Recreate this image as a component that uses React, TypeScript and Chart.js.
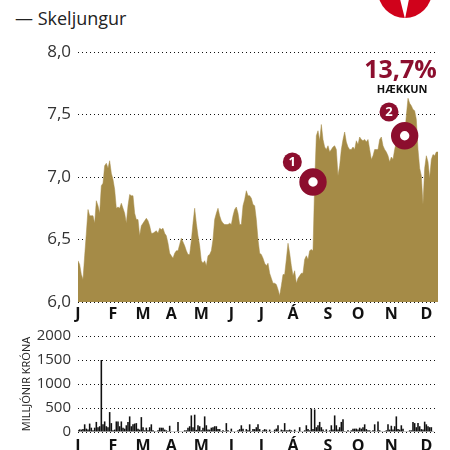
import React, { useEffect, useRef } from 'react';
import { Chart, registerables } from 'chart.js';

Chart.register(...registerables);

const MONTHS = ['J', 'F', 'M', 'A', 'M', 'J', 'J', 'Á', 'S', 'O', 'N', 'D'];
const MONTH_POS = [0, 21, 39, 56, 74, 92, 110, 129, 150, 168, 188, 209];

// Share price (kr.), one value per trading-day step
const PRICE = [
  6.33, 6.30, 6.22, 6.18, 6.37, 6.55, 6.74, 6.69, 6.69, 6.69,
  6.63, 6.81, 6.77, 6.71, 6.93, 6.95, 7.09, 7.11, 7.07, 7.13,
  7.03, 6.98, 6.90, 6.75, 6.76, 6.75, 6.79, 6.75, 6.71, 6.63,
  6.77, 6.86, 6.85, 6.85, 6.71, 6.66, 6.66, 6.53, 6.61, 6.63,
  6.65, 6.67, 6.65, 6.61, 6.55, 6.55, 6.56, 6.57, 6.55, 6.59,
  6.58, 6.59, 6.55, 6.53, 6.47, 6.39, 6.37, 6.35, 6.39, 6.41,
  6.41, 6.46, 6.51, 6.48, 6.45, 6.41, 6.38, 6.38, 6.49, 6.63,
  6.75, 6.63, 6.53, 6.45, 6.33, 6.31, 6.33, 6.29, 6.37, 6.38,
  6.41, 6.50, 6.66, 6.71, 6.75, 6.69, 6.65, 6.63, 6.62, 6.62,
  6.62, 6.63, 6.62, 6.69, 6.74, 6.76, 6.71, 6.62, 6.62, 6.77,
  6.82, 6.89, 6.85, 6.85, 6.83, 6.78, 6.77, 6.66, 6.50, 6.39,
  6.38, 6.35, 6.31, 6.29, 6.31, 6.23, 6.19, 6.15, 6.15, 6.14,
  6.10, 6.05, 6.13, 6.22, 6.22, 6.34, 6.47, 6.39, 6.29, 6.21,
  6.25, 6.15, 6.19, 6.21, 6.23, 6.23, 6.34, 6.37, 6.34, 6.41,
  6.42, 6.41,
  6.95, 7.33, 7.37, 7.29, 7.42, 7.30, 7.24, 7.22, 7.25, 7.20,
  7.22, 7.24, 7.25, 7.22, 7.01, 7.09, 7.22, 7.30, 7.36, 7.28,
  7.24, 7.22, 7.22, 7.24, 7.22, 7.29, 7.26, 7.32, 7.30, 7.29,
  7.30, 7.28, 7.30, 7.22, 7.14, 7.17, 7.22, 7.22, 7.22, 7.30,
  7.32, 7.25, 7.22, 7.20, 7.17, 7.12, 7.16, 7.14, 7.22, 7.28,
  7.30, 7.33, 7.33, 7.34, 7.34, 7.49, 7.63, 7.59, 7.57, 7.54,
  7.53, 7.46, 7.22, 7.07, 7.01, 6.78, 7.07, 7.17, 7.12, 6.99,
  7.14, 7.18, 7.17, 7.20, 7.20,
];

// Turnover (millions of krónur)
const VOLUME = [
  40, 55, 50, 60, 160, 70, 50, 175, 90, 35,
  90, 210, 100, 120, 1500, 160, 220, 120, 100, 415,
  185, 35, 50, 220, 220, 120, 220, 90, 70, 140,
  210, 325, 120, 160, 175, 185, 70, 50, 310, 100,
  35, 90, 35, 100, 160, 35, 20, 15, 35, 90,
  90, 90, 50, 35, 20, 130, 15, 15, 15, 5,
  210, 5, 15, 15, 35, 35, 90, 120, 345, 100,
  360, 45, 140, 120, 35, 90, 325, 140, 50, 50,
  90, 100, 120, 120, 60, 60, 20, 35, 20, 185,
  35, 15, 70, 15, 5, 15, 35, 60, 140, 70,
  15, 60, 35, 160, 20, 60, 60, 100, 160, 60,
  15, 35, 60, 50, 15, 50, 5, 15, 50, 70,
  140, 15, 50, 35, 185, 35, 35, 50, 35, 15,
  50, 5, 5, 100, 5, 5, 35, 140, 60, 35,
  490, 60, 470, 100, 140, 210, 100, 50, 20, 55,
  5, 35, 140, 50, 345, 140, 50, 100, 210, 265,
  20, 5, 35, 5, 35, 70, 70, 70, 50, 90,
  70, 100, 160, 60, 35, 35, 5, 35, 160, 5,
  220, 35, 15, 15, 20, 35, 160, 50, 130, 50,
  120, 325, 60, 50, 140, 70, 15, 5, 5, 35,
  35, 210, 185, 100, 185, 120, 60, 50, 215, 160,
  120, 100, 100, 5, 0, 0, 0,
];

const MARKER_X = [141, 196];
const MARKER_Y = [6.96, 7.33];
const BADGE_X = [128.6, 186.6];
const BADGE_Y = [7.12, 7.52];
const BADGE_TEXT = ['1', '2'];
const CHANGE_TEXT = '13,7%';
const CHANGE_LABEL = 'HÆKKUN';
const CHANGE_X = 193.5;
const CHANGE_Y = 7.79;
const CHANGE_LABEL_Y = 7.67;

const SUBTITLE = '— Skeljungur';
const Y_TITLE = 'MILLJÓNIR KRÓNA';

const FONT = "'Open Sans', sans-serif";
const GOLD = '#a58b47';
const DARK_RED = '#8c0e2e';

const monthAxis = (n: number, pad: number) => ({
  type: 'linear' as const,
  min: 0,
  max: n - 1,
  offset: false,
  afterBuildTicks: (s: any) => {
    s.ticks = MONTH_POS.map((v) => ({ value: v }));
  },
  afterFit: (s: any) => {
    s.height = 28;
    s.paddingLeft = 0;
    s.paddingRight = 0;
  },
  ticks: {
    autoSkip: false,
    maxRotation: 0,
    minRotation: 0,
    padding: pad,
    color: '#111',
    font: { family: FONT, size: 16, weight: 'bold' as const },
    callback: (v: any) => MONTHS[MONTH_POS.indexOf(v)] ?? '',
  },
  grid: { display: false, drawTicks: false },
  border: { display: false },
});

const annotationPlugin = {
  id: 'annotations',
  afterDatasetsDraw(chart: any) {
    const { ctx, scales } = chart;
    const x = scales.x;
    const y = scales.y;
    ctx.save();
    ctx.textAlign = 'center';
    ctx.textBaseline = 'middle';
    ctx.fillStyle = '#fff';
    ctx.font = `bold 13px ${FONT}`;
    BADGE_X.forEach((bx, i) => {
      ctx.fillText(BADGE_TEXT[i], x.getPixelForValue(bx), y.getPixelForValue(BADGE_Y[i]) + 0.5);
    });
    ctx.textBaseline = 'alphabetic';
    ctx.fillStyle = DARK_RED;
    ctx.font = `bold 25px ${FONT}`;
    ctx.fillText(CHANGE_TEXT, x.getPixelForValue(CHANGE_X), y.getPixelForValue(CHANGE_Y));
    ctx.fillStyle = '#111';
    ctx.font = `bold 11px ${FONT}`;
    ctx.fillText(CHANGE_LABEL, x.getPixelForValue(CHANGE_X + 1), y.getPixelForValue(CHANGE_LABEL_Y));
    ctx.restore();
  },
};

export default function App() {
  const topRef = useRef<HTMLCanvasElement | null>(null);
  const botRef = useRef<HTMLCanvasElement | null>(null);

  useEffect(() => {
    const labels = PRICE.map((_, i) => i);
    const top = new Chart(topRef.current as HTMLCanvasElement, {
      type: 'line',
      data: {
        labels,
        datasets: [
          {
            type: 'scatter',
            data: BADGE_X.map((bx, i) => ({ x: bx, y: BADGE_Y[i] })),
            pointRadius: 9.5,
            pointBackgroundColor: DARK_RED,
            pointBorderWidth: 0,
            order: 0,
          } as any,
          {
            type: 'scatter',
            data: MARKER_X.map((mx, i) => ({ x: mx, y: MARKER_Y[i] })),
            pointRadius: 9.2,
            pointBackgroundColor: '#fff',
            pointBorderColor: DARK_RED,
            pointBorderWidth: 9,
            order: 1,
          } as any,
          {
            data: PRICE,
            fill: 'start',
            backgroundColor: GOLD,
            borderColor: GOLD,
            borderWidth: 0.5,
            pointRadius: 0,
            tension: 0,
            order: 2,
          },
        ],
      },
      options: {
        responsive: false,
        animation: false,
        events: [],
        layout: { autoPadding: false, padding: { top: 52, right: 12, left: 0, bottom: 0 } },
        plugins: { legend: { display: false }, tooltip: { enabled: false } },
        scales: {
          x: monthAxis(PRICE.length, 3) as any,
          y: {
            min: 6,
            max: 8,
            afterFit: (s: any) => {
              s.width = 78;
            },
            ticks: {
              stepSize: 0.5,
              padding: 7,
              color: '#333',
              font: { family: FONT, size: 17 },
              callback: (v: any) => Number(v).toFixed(1).replace('.', ','),
            },
            grid: { color: '#111', lineWidth: 1, drawTicks: false },
            border: { display: false, dash: [1, 3] },
          },
        },
      },
      plugins: [annotationPlugin],
    });

    const bot = new Chart(botRef.current as HTMLCanvasElement, {
      type: 'bar',
      data: {
        labels,
        datasets: [
          {
            data: VOLUME,
            backgroundColor: '#111',
            barPercentage: 0.95,
            categoryPercentage: 1,
          },
        ],
      },
      options: {
        responsive: false,
        animation: false,
        events: [],
        layout: { autoPadding: false, padding: { top: 16, right: 12, left: 0, bottom: 0 } },
        plugins: { legend: { display: false }, tooltip: { enabled: false } },
        scales: {
          x: monthAxis(VOLUME.length, 5) as any,
          y: {
            min: 0,
            max: 2000,
            afterFit: (s: any) => {
              s.width = 78;
            },
            title: {
              display: true,
              text: Y_TITLE,
              color: '#222',
              font: { family: FONT, size: 11 },
              padding: { top: 20, bottom: 0 },
            },
            ticks: {
              stepSize: 500,
              padding: 7,
              color: '#333',
              font: { family: FONT, size: 15 },
              callback: (v: any) => String(v),
            },
            grid: { color: '#111', lineWidth: 1, drawTicks: false },
            border: { display: false, dash: [1, 3] },
          },
        },
      },
    });

    return () => {
      top.destroy();
      bot.destroy();
    };
  }, []);

  return (
    <div
      style={{
        position: 'absolute',
        left: 0,
        top: 0,
        width: 450,
        height: 450,
        overflow: 'hidden',
        background: '#fff',
        fontFamily: FONT,
      }}
    >
      <svg width={450} height={40} style={{ position: 'absolute', left: 0, top: 0 }}>
        <circle cx={405} cy={-9} r={27} fill="#d0021b" />
        <polygon points="400,-1 409,-1 405,19" fill="#fff" />
      </svg>
      <div
        style={{
          position: 'absolute',
          left: 15,
          top: 9,
          fontSize: 18,
          lineHeight: '18px',
          color: '#222',
          whiteSpace: 'nowrap',
        }}
      >
        {SUBTITLE}
      </div>
      <canvas
        ref={topRef}
        width={450}
        height={330}
        style={{ position: 'absolute', left: 0, top: 0, width: 450, height: 330 }}
      />
      <canvas
        ref={botRef}
        width={450}
        height={140}
        style={{ position: 'absolute', left: 0, top: 320, width: 450, height: 140 }}
      />
    </div>
  );
}
